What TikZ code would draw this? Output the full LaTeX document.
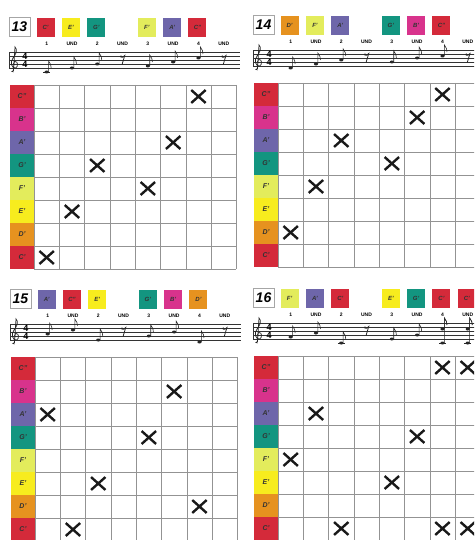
\documentclass[tikz,border=0pt]{standalone}
\usepackage{fontspec}
\setmainfont{Liberation Sans}
\usetikzlibrary{shapes.misc}
\definecolor{pc0}{HTML}{D42A3A}
\definecolor{pc1}{HTML}{E6921F}
\definecolor{pc2}{HTML}{F7EC1E}
\definecolor{pc3}{HTML}{E3EC5C}
\definecolor{pc4}{HTML}{139580}
\definecolor{pc5}{HTML}{6E66AA}
\definecolor{pc6}{HTML}{D8338C}
\definecolor{pc7}{HTML}{D42A3A}
\newcommand{\pitchname}[1]{\ifcase#1\relax C'\or D'\or E'\or F'\or G'\or A'\or B'\or C''\fi}

\begin{document}
\begin{tikzpicture}[
    x=1pt, y=-1pt,
    numbox/.style={draw=gray!70, line width=0.8pt, minimum width=21pt, minimum height=19pt,
                   inner sep=0pt, font=\fontsize{14}{14}\selectfont\bfseries\itshape},
    sqbox/.style={minimum width=18pt, minimum height=19pt, inner sep=0pt,
                  font=\fontsize{6}{6}\selectfont\bfseries\itshape, text=black!80},
    labcell/.style={minimum width=24pt, minimum height=23pt, inner sep=0pt,
                    font=\fontsize{7}{7}\selectfont\bfseries\itshape, text=black!80},
    beat/.style={inner sep=0pt, font=\fontsize{5}{5}\selectfont\bfseries},
    tsig/.style={inner sep=0pt, font=\fontsize{9}{9}\selectfont\bfseries},
    xmark/.style={cross out, draw=black!90, line width=2.4pt, minimum width=12pt,
                  minimum height=10.5pt, inner sep=0pt},
    gridline/.style={gray!85, line width=0.6pt},
    staffline/.style={black!80, line width=0.45pt},
    stem/.style={black!85, line width=0.6pt},
]
    \clip (0,0) rectangle (474,540);

    % panel: origin / number / squares / crosses / notes / rests
    \foreach \ox/\oy/\n/\sqs/\xs/\notes/\rests in {
        10/85/13/{1/0,2/2,3/4,5/3,6/5,7/7}/{1/0,2/2,3/4,5/3,6/5,7/7}/{1/0/0,2/2/2,3/4/4,5/3/3,6/5/5,7/7/7}/{4,8},
        254/83/14/{1/1,2/3,3/5,5/4,6/6,7/7}/{1/1,2/3,3/5,5/4,6/6,7/7}/{1/1/1,2/3/3,3/5/5,5/4/4,6/6/6,7/7/7}/{4,8},
        11/357/15/{1/5,2/7,3/2,5/4,6/6,7/1}/{1/5,2/0,3/2,5/4,6/6,7/1}/{1/5/5,2/7/7,3/2/2,5/4/4,6/6/6,7/1/1}/{4,8},
        254/356/16/{1/3,2/5,3/0,5/2,6/4,7/0,8/0}/{1/3,2/5,3/0,5/2,6/4,7/0,7/7,8/0,8/7}/{1/3/3,2/5/5,3/0/0,5/2/2,6/4/4,7/0/7,7/7/7,8/0/7,8/7/7}/{4}%
    }{
        \pgfmathsetmacro\yb{\oy-17}
        \pgfmathsetmacro\cx{\ox+4}

        % Number and colour squares
        \node[numbox] (num\n) at ({\ox+9.5},{\oy-58}) {\n};
        \foreach \c/\p in \sqs
            \node[sqbox, fill=pc\p] (sq\n-\c) at ({\ox+23+(\c-0.5)*25.3},{\oy-57.5}) {\pitchname{\p}};

        % Counting
        \foreach \k/\bt in {1/1,2/UND,3/2,4/UND,5/3,6/UND,7/4,8/UND}
            \node[beat] (bt\n-\k) at ({\ox+24+(\k-0.5)*25.3},{\oy-41}) {\bt};

        % Staff, clef and time signature
        \foreach \k in {0,...,4}
            \draw[staffline] (\ox-1,{\yb-4*\k}) -- ++(231,0);
        \draw[staffline] (\ox-1,\yb) -- (\ox-1,\yb-16);
        \draw[stem, line width=0.7pt] (\cx-0.5,\yb+4) .. controls (\cx-2.5,\yb+5) and (\cx-2.5,\yb+2) .. (\cx-0.5,\yb+2.5)
            -- (\cx+1,\yb-21) .. controls (\cx+4,\yb-18) and (\cx+2,\yb-14) .. (\cx-1,\yb-10)
            .. controls (\cx-4.5,\yb-6) and (\cx-2,\yb+1) .. (\cx+1.5,\yb)
            .. controls (\cx+4.5,\yb-1) and (\cx+4,\yb-7) .. (\cx+1,\yb-6.5)
            .. controls (\cx-1,\yb-6) and (\cx-1,\yb-3) .. (\cx+1,\yb-3);
        \node[tsig] (ts\n-a) at (\ox+15,\yb-12) {4};
        \node[tsig] (ts\n-b) at (\ox+15,\yb-4) {4};

        % Notes
        \foreach \c/\p/\s in \notes {
            \pgfmathsetmacro\nx{\ox+24+(\c-0.5)*25.3}
            \pgfmathsetmacro\ny{\yb-(\p-2)*2}
            \pgfmathsetmacro\sy{\yb-(\s-2)*2-11}
            \fill[black!85] (\nx,\ny) ellipse [x radius=2.1pt, y radius=1.5pt];
            \draw[stem] (\nx+1.9,\ny) -- (\nx+1.9,\sy)
                .. controls (\nx+3,\sy+3) and (\nx+5.5,\sy+4) .. (\nx+4.5,\sy+7);
            \ifnum\p=0 \draw[stem] (\nx-3.5,\yb+4) -- (\nx+3.5,\yb+4); \fi
        }

        % Rests
        \foreach \c in \rests {
            \pgfmathsetmacro\nx{\ox+24+(\c-0.5)*25.3}
            \fill[black!85] (\nx-1.5,\yb-11.5) circle (1.1pt);
            \draw[stem, line width=0.8pt] (\nx-1.5,\yb-11) .. controls (\nx,\yb-10.5) .. (\nx+2.2,\yb-12.5)
                -- (\nx-0.5,\yb-3.5);
        }

        % Grid
        \foreach \p in {0,...,7}
            \node[labcell, fill=pc\p] (lab\n-\p) at (\ox+12,{\oy+(7.5-\p)*23}) {\pitchname{\p}};
        \foreach \i in {0,...,8} {
            \draw[gridline] ({\ox+24+\i*25.3},\oy) -- ++(0,184);
            \draw[gridline] (\ox+24,{\oy+\i*23}) -- ++(202.4,0);
        }
        \foreach \c/\p in \xs
            \node[xmark] (x\n-\c-\p) at ({\ox+24+(\c-0.5)*25.3},{\oy+(7.5-\p)*23}) {};
    }
\end{tikzpicture}
\end{document}
